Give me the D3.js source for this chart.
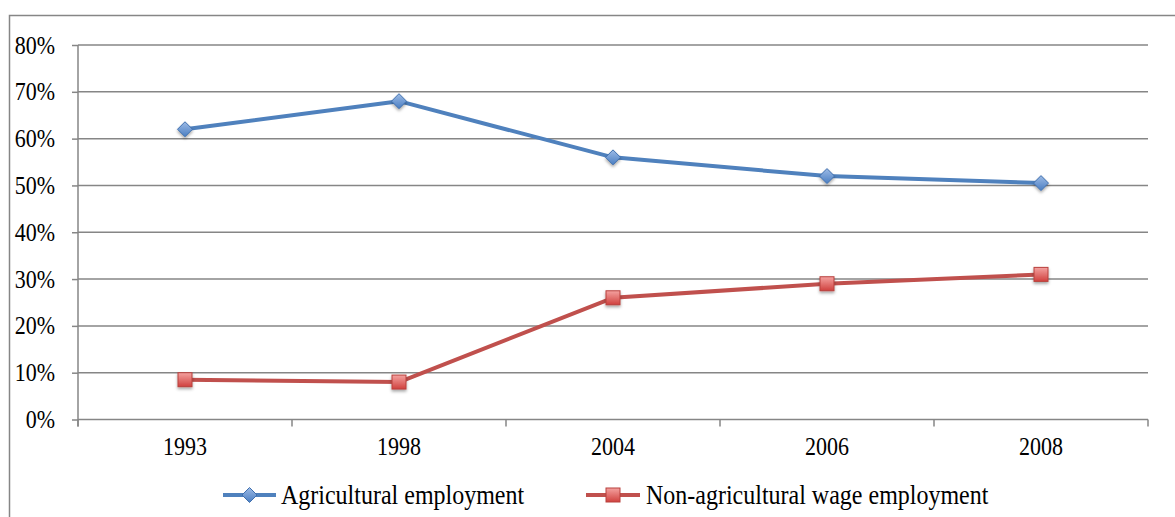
<!DOCTYPE html>
<html>
<head>
<meta charset="utf-8">
<script src="https://cdn.jsdelivr.net/npm/d3@7"></script>
<style>
  html, body { margin: 0; padding: 0; background: #fff; }
  svg { display: block; }
</style>
</head>
<body>
<svg id="chart" width="1175" height="517"></svg>
<script>
// Employment shares by survey year
const years = ["1993", "1998", "2004", "2006", "2008"];
const agricultural = [0.62, 0.68, 0.56, 0.52, 0.505];
const nonAgriculturalWage = [0.085, 0.08, 0.26, 0.29, 0.31];
const yTicks = [0, 0.1, 0.2, 0.3, 0.4, 0.5, 0.6, 0.7, 0.8];
const seriesNames = ["Agricultural employment", "Non-agricultural wage employment"];

const W = 1175, H = 517;
const plot = { left: 78, right: 1148, top: 45, bottom: 419.5 };
const gridColor = "#868686";
const blue = "#4F81BD", red = "#C0504D";
const FONT = "'Liberation Serif', 'Times New Roman', Times, serif";
const STRETCH = 1.11; // glyphs are set slightly tall

const svg = d3.select("#chart");
const defs = svg.append("defs");

// Marker fills and soft drop shadow
function gradient(id, c1, c2) {
  const g = defs.append("linearGradient").attr("id", id)
    .attr("x1", 0).attr("y1", 0).attr("x2", 0).attr("y2", 1);
  g.append("stop").attr("offset", "0%").attr("stop-color", c1);
  g.append("stop").attr("offset", "100%").attr("stop-color", c2);
}
gradient("gBlue", "#9DBBE6", "#4A7EC2");
gradient("gRed", "#F4A2A0", "#D0413E");
const f = defs.append("filter").attr("id", "shadow")
  .attr("x", "-50%").attr("y", "-50%").attr("width", "200%").attr("height", "200%");
f.append("feDropShadow").attr("dx", 0).attr("dy", 2).attr("stdDeviation", 1.5)
  .attr("flood-color", "#000").attr("flood-opacity", 0.35);

// Text placed by baseline, stretched vertically
function label(parent, x, y, str, size, anchor) {
  return parent.append("text")
    .attr("transform", `translate(${x},${y}) scale(1,${STRETCH})`)
    .attr("text-anchor", anchor)
    .attr("font-family", FONT).attr("font-size", size).attr("fill", "#000")
    .text(str);
}

// Outer frame
svg.append("rect")
  .attr("x", 9.5).attr("y", 15.5).attr("width", W + 20).attr("height", H + 20)
  .attr("fill", "none").attr("stroke", gridColor).attr("stroke-width", 1.5);

const x = d3.scaleBand().domain(years).range([plot.left, plot.right]).padding(0);
const y = d3.scaleLinear().domain([0, 0.8]).range([plot.bottom, plot.top]);

// Horizontal gridlines
svg.append("g").selectAll("line").data(yTicks).join("line")
  .attr("x1", plot.left).attr("x2", plot.right)
  .attr("y1", d => y(d)).attr("y2", d => y(d))
  .attr("stroke", gridColor).attr("stroke-width", 1.5);

// Y axis ticks and labels
const yAxis = d3.axisLeft(y).tickValues(yTicks).tickFormat(d3.format(".0%")).tickSize(6).tickPadding(17);
const gy = svg.append("g").attr("transform", `translate(${plot.left},0)`).call(yAxis)
  .attr("font-family", FONT).attr("font-size", "22px");
gy.select(".domain").remove();
gy.selectAll(".tick line").attr("stroke", gridColor).attr("stroke-width", 1.5);
gy.selectAll(".tick text")
  .attr("fill", "#000")
  .attr("x", null).attr("dy", null)
  .attr("transform", `translate(-23,8) scale(1,${STRETCH})`);
svg.append("line")
  .attr("x1", plot.left).attr("x2", plot.left)
  .attr("y1", plot.top).attr("y2", plot.bottom + 7)
  .attr("stroke", gridColor).attr("stroke-width", 1.5);

// X axis: ticks between categories, labels centred in each band
const boundaries = years.map(d => x(d)).concat([plot.right]);
svg.append("g").selectAll("line").data(boundaries).join("line")
  .attr("x1", d => d).attr("x2", d => d)
  .attr("y1", plot.bottom).attr("y2", plot.bottom + 7)
  .attr("stroke", gridColor).attr("stroke-width", 1.5);
const gx = svg.append("g");
years.forEach(d => label(gx, x(d) + x.bandwidth() / 2, 455, d, "22px", "middle"));

const line = d3.line().x((d, i) => x(years[i]) + x.bandwidth() / 2).y(d => y(d));

function diamond(sel, s) {
  return sel.attr("d", `M0,${-s}L${s},0L0,${s}L${-s},0Z`);
}

// Agricultural series
svg.append("path").datum(agricultural)
  .attr("d", line).attr("fill", "none").attr("stroke", blue)
  .attr("stroke-width", 4).attr("stroke-linejoin", "round");
svg.append("g").selectAll("path").data(agricultural).join("path")
  .attr("transform", (d, i) => `translate(${x(years[i]) + x.bandwidth() / 2},${y(d)})`)
  .call(diamond, 7.5)
  .attr("fill", "url(#gBlue)").attr("stroke", "#3F6FAE").attr("stroke-width", 1)
  .attr("filter", "url(#shadow)");

// Non-agricultural wage series
svg.append("path").datum(nonAgriculturalWage)
  .attr("d", line).attr("fill", "none").attr("stroke", red)
  .attr("stroke-width", 4).attr("stroke-linejoin", "round");
svg.append("g").selectAll("rect").data(nonAgriculturalWage).join("rect")
  .attr("x", (d, i) => x(years[i]) + x.bandwidth() / 2 - 7)
  .attr("y", d => y(d) - 7)
  .attr("width", 14).attr("height", 14)
  .attr("fill", "url(#gRed)").attr("stroke", "#B8403D").attr("stroke-width", 1)
  .attr("filter", "url(#shadow)");

// Legend
const legY = 495;
const leg = [
  { name: seriesNames[0], x1: 223, x2: 276, color: blue, marker: "diamond", tx: 281 },
  { name: seriesNames[1], x1: 586, x2: 640, color: red, marker: "square", tx: 646 }
];
leg.forEach(l => {
  const g = svg.append("g");
  g.append("line").attr("x1", l.x1).attr("x2", l.x2).attr("y1", legY).attr("y2", legY)
    .attr("stroke", l.color).attr("stroke-width", 4);
  const cx = (l.x1 + l.x2) / 2;
  if (l.marker === "diamond") {
    g.append("path").attr("transform", `translate(${cx},${legY})`).call(diamond, 7.5)
      .attr("fill", "url(#gBlue)").attr("stroke", "#3F6FAE").attr("stroke-width", 1);
  } else {
    g.append("rect").attr("x", cx - 7).attr("y", legY - 7).attr("width", 14).attr("height", 14)
      .attr("fill", "url(#gRed)").attr("stroke", "#B8403D").attr("stroke-width", 1);
  }
  label(g, l.tx, 504, l.name, "24px", "start");
});
</script>
</body>
</html>
